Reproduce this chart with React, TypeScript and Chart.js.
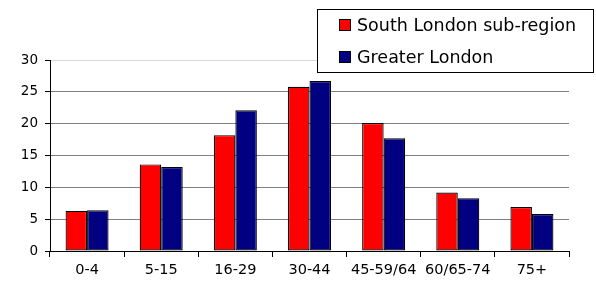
import React, { useEffect, useRef } from "react";
import { Chart, registerables } from "chart.js";

Chart.register(...registerables);

const categories = ["0-4", "5-15", "16-29", "30-44", "45-59/64", "60/65-74", "75+"];
const southLondon = [6.3, 13.6, 18.2, 25.8, 20.1, 9.2, 6.9];
const greaterLondon = [6.4, 13.2, 22.1, 26.7, 17.7, 8.3, 5.8];
const seriesNames = ["South London sub-region", "Greater London"];
const seriesColors = ["#FF0000", "#000080"];
const yTicks = [0, 5, 10, 15, 20, 25, 30];

const FONT = "'DejaVu Sans', sans-serif";

const boxLegend = {
  id: "boxLegend",
  afterDraw(chart: any) {
    const ctx = chart.ctx;
    const x0 = 317, y0 = 9, x1 = 594, y1 = 73;
    ctx.save();
    ctx.fillStyle = "#ffffff";
    ctx.fillRect(x0, y0, x1 - x0, y1 - y0);
    ctx.strokeStyle = "#000000";
    ctx.lineWidth = 1;
    ctx.strokeRect(x0 + 0.5, y0 + 0.5, x1 - x0 - 1, y1 - y0 - 1);
    const rows = [25, 57];
    chart.data.datasets.forEach((ds: any, i: number) => {
      const cy = rows[i];
      ctx.fillStyle = ds.backgroundColor;
      ctx.fillRect(339, cy - 6, 12, 12);
      ctx.strokeStyle = "#000";
      ctx.strokeRect(339.5, cy - 5.5, 11, 11);
      ctx.fillStyle = "#000";
      ctx.font = `17.5px ${FONT}`;
      ctx.textBaseline = "middle";
      ctx.textAlign = "left";
      ctx.fillText(ds.label, 357, cy + 1);
    });
    ctx.restore();
  },
};

export default function App() {
  const ref = useRef<HTMLCanvasElement | null>(null);
  useEffect(() => {
    if (!ref.current) return;
    const chart = new Chart(ref.current, {
      type: "bar",
      data: {
        labels: categories,
        datasets: [
          {
            label: seriesNames[0],
            data: southLondon,
            backgroundColor: seriesColors[0],
            borderColor: "#000",
            borderWidth: 1.2,
            borderSkipped: false,
          },
          {
            label: seriesNames[1],
            data: greaterLondon,
            backgroundColor: seriesColors[1],
            borderColor: "#000",
            borderWidth: 1.2,
            borderSkipped: false,
          },
        ],
      },
      options: {
        animation: false,
        responsive: false,
        maintainAspectRatio: false,
        layout: { padding: { top: 60, right: 27, left: 0, bottom: 0 } },
        datasets: { bar: { barPercentage: 1, categoryPercentage: 0.58 } },
        plugins: { legend: { display: false }, tooltip: { enabled: false } },
        scales: {
          x: {
            grid: {
              drawOnChartArea: false,
              drawTicks: true,
              tickLength: 6,
              color: "#000",
              offset: true,
            },
            border: { color: "#000", width: 1 },
            ticks: {
              color: "#000",
              font: { family: FONT, size: 14.5 },
              padding: 5,
              maxRotation: 0,
              autoSkip: false,
            },
            afterFit(scale: any) {
              scale.height = 35;
            },
          },
          y: {
            min: 0,
            max: 30,
            afterBuildTicks(scale: any) {
              scale.ticks = yTicks.map((v) => ({ value: v }));
            },
            grid: {
              color: (c: any) => (c.tick && c.tick.value === 30 ? "#d9d9d9" : "#808080"),
              tickColor: "#000",
              tickLength: 5,
              drawTicks: true,
            },
            border: { color: "#000", width: 1 },
            ticks: {
              color: "#000",
              font: { family: FONT, size: 13.5 },
              padding: 7,
            },
            afterFit(scale: any) {
              scale.width = 50;
            },
          },
        },
      },
      plugins: [boxLegend],
    });
    return () => chart.destroy();
  }, []);
  return (
    <div style={{ position: "fixed", left: 0, top: 0, width: 596, height: 286, background: "#fff" }}>
      <canvas ref={ref} width={596} height={286} style={{ width: 596, height: 286 }} />
    </div>
  );
}
